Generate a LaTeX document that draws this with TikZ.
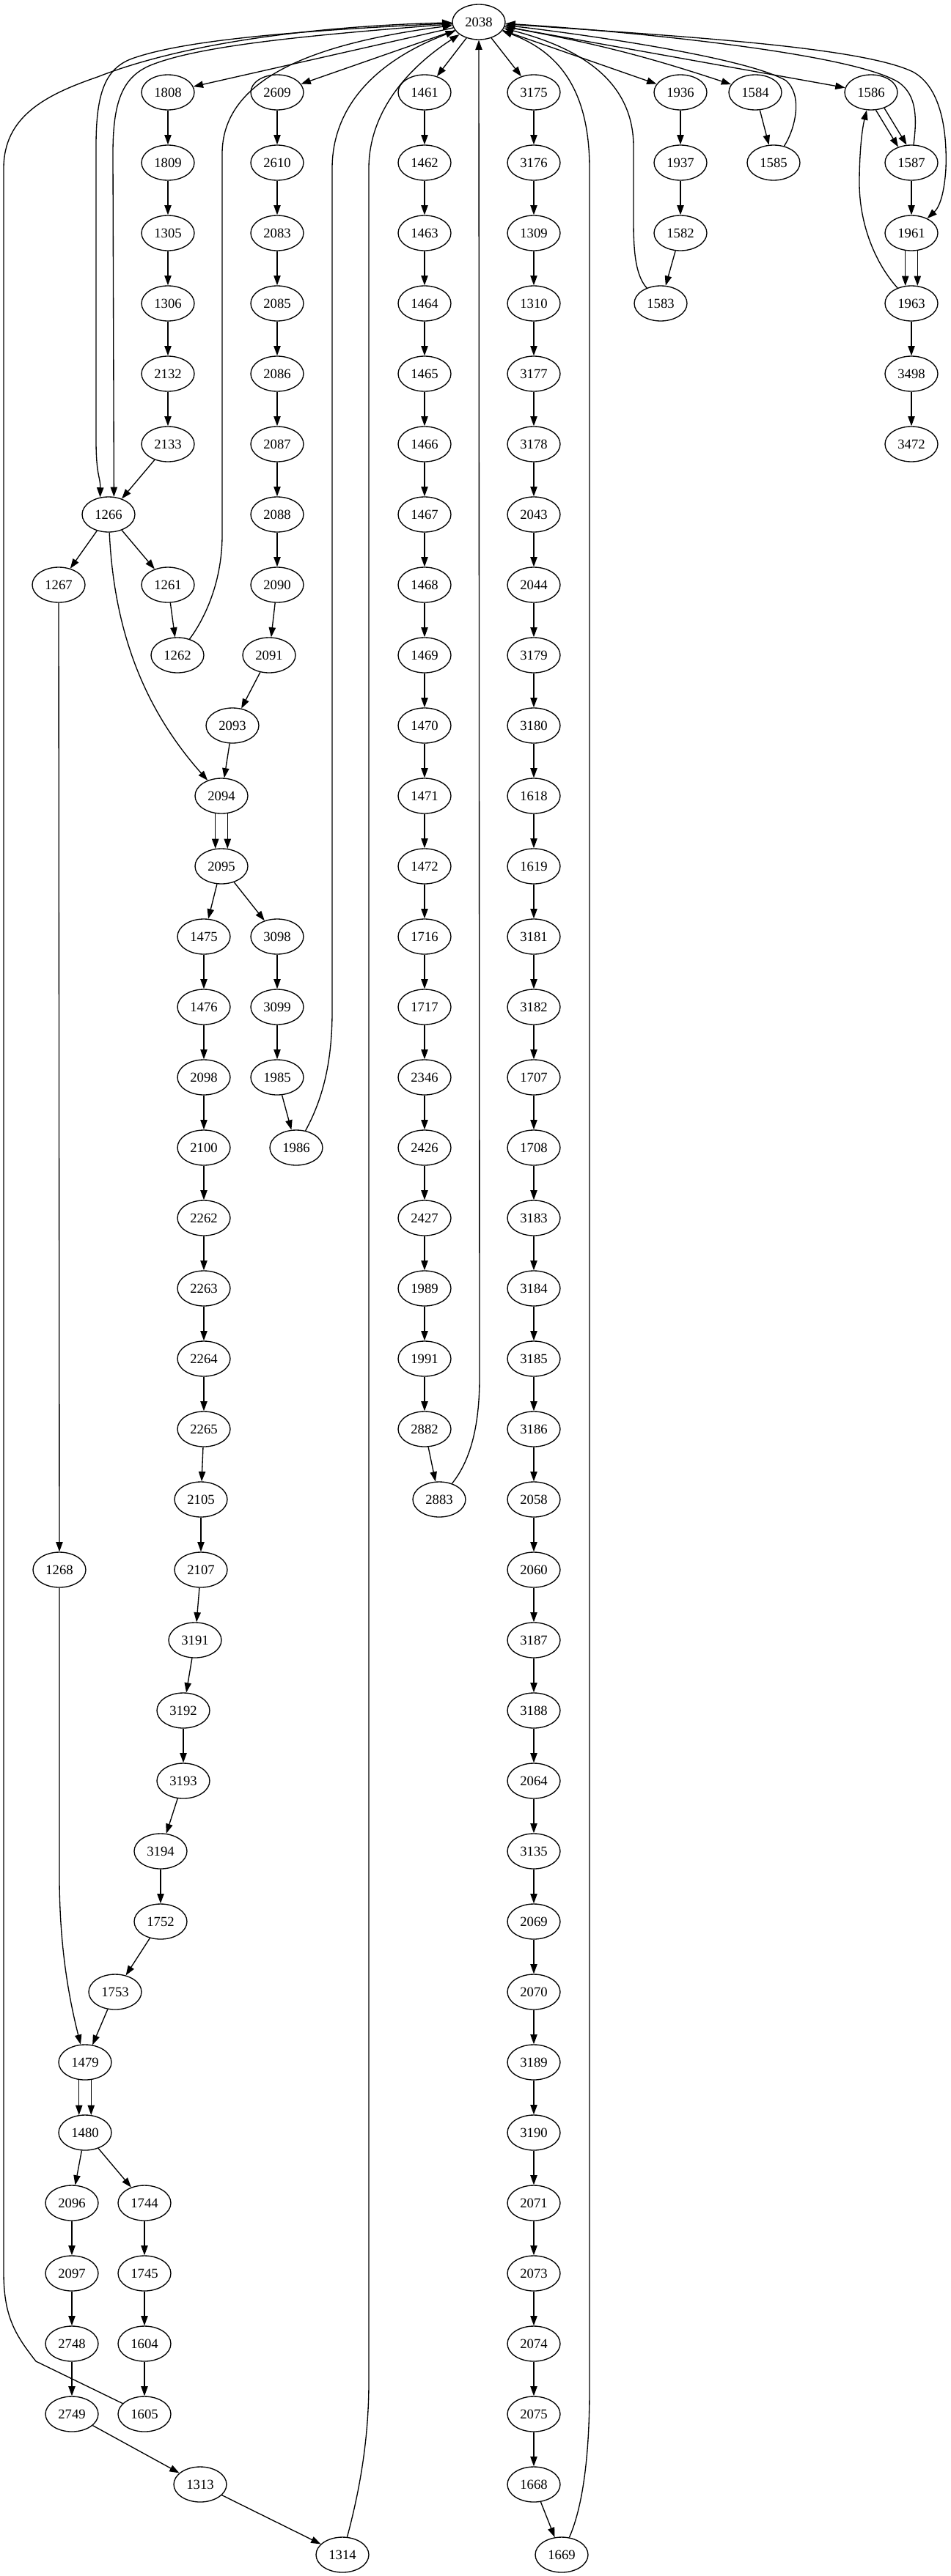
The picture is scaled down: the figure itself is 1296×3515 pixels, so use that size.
\documentclass[tikz,border=0pt]{standalone}
\usepackage{fontspec}
\setmainfont{Liberation Serif}
\usepackage{tikz}
\usetikzlibrary{arrows.meta,shapes.geometric}
\definecolor{Ink}{HTML}{000000}
\tikzset{
  bbNode/.style={ellipse,draw=Ink,line width=1pt,fill=white,text=Ink,
    minimum width=54pt,minimum height=36pt,inner sep=0pt,font=\fontsize{14}{16}\selectfont},
  cfEdge/.style={-{Triangle[length=10pt,width=7pt]},draw=Ink,line width=1pt}
}

\begin{document}
\begin{tikzpicture}[x=0.75pt,y=-0.75pt]
  \useasboundingbox (0,0) rectangle (1296,3515);

  % Entry block
  \node[bbNode] (n2038) at (653,30) {2038};

  % Left chain down to 1266 and its branches
  \node[bbNode] (n1808) at (229,126) {1808};
  \node[bbNode] (n1809) at (229,222) {1809};
  \node[bbNode] (n1305) at (229,318) {1305};
  \node[bbNode] (n1306) at (229,414) {1306};
  \node[bbNode] (n2132) at (229,510) {2132};
  \node[bbNode] (n2133) at (229,606) {2133};
  \node[bbNode] (n1266) at (148,702) {1266};
  \node[bbNode] (n1267) at (80,798) {1267};
  \node[bbNode] (n1261) at (229,798) {1261};
  \node[bbNode] (n1262) at (242,894) {1262};
  \node[bbNode] (n1268) at (81,2142) {1268};

  % Second chain, 2609 to 1314
  \node[bbNode] (n2609) at (378,126) {2609};
  \node[bbNode] (n2610) at (378,222) {2610};
  \node[bbNode] (n2083) at (378,318) {2083};
  \node[bbNode] (n2085) at (378,414) {2085};
  \node[bbNode] (n2086) at (378,510) {2086};
  \node[bbNode] (n2087) at (378,606) {2087};
  \node[bbNode] (n2088) at (378,702) {2088};
  \node[bbNode] (n2090) at (378,798) {2090};
  \node[bbNode] (n2091) at (367,894) {2091};
  \node[bbNode] (n2093) at (317,990) {2093};
  \node[bbNode] (n2094) at (302,1086) {2094};
  \node[bbNode] (n2095) at (302,1182) {2095};
  \node[bbNode] (n1475) at (278,1278) {1475};
  \node[bbNode] (n3098) at (378,1278) {3098};
  \node[bbNode] (n1476) at (278,1374) {1476};
  \node[bbNode] (n3099) at (378,1374) {3099};
  \node[bbNode] (n2098) at (278,1470) {2098};
  \node[bbNode] (n1985) at (378,1470) {1985};
  \node[bbNode] (n2100) at (278,1566) {2100};
  \node[bbNode] (n1986) at (404,1566) {1986};
  \node[bbNode] (n2262) at (278,1662) {2262};
  \node[bbNode] (n2263) at (278,1758) {2263};
  \node[bbNode] (n2264) at (278,1854) {2264};
  \node[bbNode] (n2265) at (278,1950) {2265};
  \node[bbNode] (n2105) at (274,2046) {2105};
  \node[bbNode] (n2107) at (274,2142) {2107};
  \node[bbNode] (n3191) at (266,2238) {3191};
  \node[bbNode] (n3192) at (250,2334) {3192};
  \node[bbNode] (n3193) at (250,2430) {3193};
  \node[bbNode] (n3194) at (219,2526) {3194};
  \node[bbNode] (n1752) at (219,2622) {1752};
  \node[bbNode] (n1753) at (157,2718) {1753};
  \node[bbNode] (n1479) at (116,2814) {1479};
  \node[bbNode] (n1480) at (116,2910) {1480};
  \node[bbNode] (n2096) at (98,3006) {2096};
  \node[bbNode] (n1744) at (197,3006) {1744};
  \node[bbNode] (n2097) at (98,3102) {2097};
  \node[bbNode] (n1745) at (197,3102) {1745};
  \node[bbNode] (n2748) at (98,3198) {2748};
  \node[bbNode] (n1604) at (197,3198) {1604};
  \node[bbNode] (n2749) at (98,3294) {2749};
  \node[bbNode] (n1605) at (197,3294) {1605};
  \node[bbNode] (n1313) at (273,3390) {1313};
  \node[bbNode] (n1314) at (467,3486) {1314};

  % Third chain, 1461 to 2883
  \node[bbNode] (n1461) at (579,126) {1461};
  \node[bbNode] (n1462) at (579,222) {1462};
  \node[bbNode] (n1463) at (579,318) {1463};
  \node[bbNode] (n1464) at (579,414) {1464};
  \node[bbNode] (n1465) at (579,510) {1465};
  \node[bbNode] (n1466) at (579,606) {1466};
  \node[bbNode] (n1467) at (579,702) {1467};
  \node[bbNode] (n1468) at (579,798) {1468};
  \node[bbNode] (n1469) at (579,894) {1469};
  \node[bbNode] (n1470) at (579,990) {1470};
  \node[bbNode] (n1471) at (579,1086) {1471};
  \node[bbNode] (n1472) at (579,1182) {1472};
  \node[bbNode] (n1716) at (579,1278) {1716};
  \node[bbNode] (n1717) at (579,1374) {1717};
  \node[bbNode] (n2346) at (579,1470) {2346};
  \node[bbNode] (n2426) at (579,1566) {2426};
  \node[bbNode] (n2427) at (579,1662) {2427};
  \node[bbNode] (n1989) at (579,1758) {1989};
  \node[bbNode] (n1991) at (579,1854) {1991};
  \node[bbNode] (n2882) at (579,1950) {2882};
  \node[bbNode] (n2883) at (599,2046) {2883};

  % Fourth chain, 3175 to 1669
  \node[bbNode] (n3175) at (728,126) {3175};
  \node[bbNode] (n3176) at (728,222) {3176};
  \node[bbNode] (n1309) at (728,318) {1309};
  \node[bbNode] (n1310) at (728,414) {1310};
  \node[bbNode] (n3177) at (728,510) {3177};
  \node[bbNode] (n3178) at (728,606) {3178};
  \node[bbNode] (n2043) at (728,702) {2043};
  \node[bbNode] (n2044) at (728,798) {2044};
  \node[bbNode] (n3179) at (728,894) {3179};
  \node[bbNode] (n3180) at (728,990) {3180};
  \node[bbNode] (n1618) at (728,1086) {1618};
  \node[bbNode] (n1619) at (728,1182) {1619};
  \node[bbNode] (n3181) at (728,1278) {3181};
  \node[bbNode] (n3182) at (728,1374) {3182};
  \node[bbNode] (n1707) at (728,1470) {1707};
  \node[bbNode] (n1708) at (728,1566) {1708};
  \node[bbNode] (n3183) at (728,1662) {3183};
  \node[bbNode] (n3184) at (728,1758) {3184};
  \node[bbNode] (n3185) at (728,1854) {3185};
  \node[bbNode] (n3186) at (728,1950) {3186};
  \node[bbNode] (n2058) at (728,2046) {2058};
  \node[bbNode] (n2060) at (728,2142) {2060};
  \node[bbNode] (n3187) at (728,2238) {3187};
  \node[bbNode] (n3188) at (728,2334) {3188};
  \node[bbNode] (n2064) at (728,2430) {2064};
  \node[bbNode] (n3135) at (728,2526) {3135};
  \node[bbNode] (n2069) at (728,2622) {2069};
  \node[bbNode] (n2070) at (728,2718) {2070};
  \node[bbNode] (n3189) at (728,2814) {3189};
  \node[bbNode] (n3190) at (728,2910) {3190};
  \node[bbNode] (n2071) at (728,3006) {2071};
  \node[bbNode] (n2073) at (728,3102) {2073};
  \node[bbNode] (n2074) at (728,3198) {2074};
  \node[bbNode] (n2075) at (728,3294) {2075};
  \node[bbNode] (n1668) at (728,3390) {1668};
  \node[bbNode] (n1669) at (766,3486) {1669};

  % Short chains on the right
  \node[bbNode] (n1936) at (928,126) {1936};
  \node[bbNode] (n1937) at (928,222) {1937};
  \node[bbNode] (n1582) at (928,318) {1582};
  \node[bbNode] (n1583) at (901,414) {1583};
  \node[bbNode] (n1584) at (1030,126) {1584};
  \node[bbNode] (n1585) at (1055,222) {1585};
  \node[bbNode] (n1586) at (1188,126) {1586};
  \node[bbNode] (n1587) at (1243,222) {1587};
  \node[bbNode] (n1961) at (1243,318) {1961};
  \node[bbNode] (n1963) at (1243,414) {1963};
  \node[bbNode] (n3498) at (1243,510) {3498};
  \node[bbNode] (n3472) at (1243,606) {3472};

  % Edges out of the entry block
  \draw[cfEdge] (n2038)--(n1808); \draw[cfEdge] (n2038)--(n2609);
  \draw[cfEdge] (n2038)--(n1461); \draw[cfEdge] (n2038)--(n3175);
  \draw[cfEdge] (n2038)--(n1936); \draw[cfEdge] (n2038) to[bend left=4] (n1584);
  \draw[cfEdge] (n2038)--(n1586);
  \draw[cfEdge] (n2038) .. controls (400,42) and (250,55) .. (180,80) .. controls (142,94) and (131,130) .. (131,200) -- (131,600) .. controls (131,650) and (137,650) .. (n1266.116);
  \draw[cfEdge] (n2038) .. controls (420,48) and (275,62) .. (208,88) .. controls (166,104) and (154,140) .. (154,210) -- (n1266.73);
  \draw[cfEdge] (n2038) .. controls (900,48) and (1170,62) .. (1245,98) .. controls (1282,118) and (1292,175) .. (1290,230) .. controls (1288,262) and (1282,282) .. (n1961);

  % Left chain
  \draw[cfEdge] (n1808)--(n1809); \draw[cfEdge] (n1809)--(n1305); \draw[cfEdge] (n1305)--(n1306);
  \draw[cfEdge] (n1306)--(n2132); \draw[cfEdge] (n2132)--(n2133); \draw[cfEdge] (n2133)--(n1266);
  \draw[cfEdge] (n1266)--(n1267); \draw[cfEdge] (n1266)--(n1261); \draw[cfEdge] (n1261)--(n1262);
  \draw[cfEdge] (n1266) .. controls (155,850) and (190,960) .. (n2094);
  \draw[cfEdge] (n1267)--(n1268);
  \draw[cfEdge] (n1268) -- (81,2560) .. controls (81,2660) and (95,2730) .. (n1479);

  % Second chain
  \draw[cfEdge] (n2609)--(n2610); \draw[cfEdge] (n2610)--(n2083); \draw[cfEdge] (n2083)--(n2085);
  \draw[cfEdge] (n2085)--(n2086); \draw[cfEdge] (n2086)--(n2087); \draw[cfEdge] (n2087)--(n2088);
  \draw[cfEdge] (n2088)--(n2090); \draw[cfEdge] (n2090)--(n2091); \draw[cfEdge] (n2091)--(n2093);
  \draw[cfEdge] (n2093)--(n2094);
  \draw[cfEdge] (n2094.-109)--(n2095.109); \draw[cfEdge] (n2094.-71)--(n2095.71);
  \draw[cfEdge] (n2095)--(n1475); \draw[cfEdge] (n2095)--(n3098);
  \draw[cfEdge] (n1475)--(n1476); \draw[cfEdge] (n1476)--(n2098); \draw[cfEdge] (n2098)--(n2100);
  \draw[cfEdge] (n3098)--(n3099); \draw[cfEdge] (n3099)--(n1985); \draw[cfEdge] (n1985)--(n1986);
  \draw[cfEdge] (n2100)--(n2262); \draw[cfEdge] (n2262)--(n2263); \draw[cfEdge] (n2263)--(n2264);
  \draw[cfEdge] (n2264)--(n2265); \draw[cfEdge] (n2265)--(n2105); \draw[cfEdge] (n2105)--(n2107);
  \draw[cfEdge] (n2107)--(n3191); \draw[cfEdge] (n3191)--(n3192); \draw[cfEdge] (n3192)--(n3193);
  \draw[cfEdge] (n3193)--(n3194); \draw[cfEdge] (n3194)--(n1752); \draw[cfEdge] (n1752)--(n1753);
  \draw[cfEdge] (n1753)--(n1479);
  \draw[cfEdge] (n1479.-109)--(n1480.109); \draw[cfEdge] (n1479.-71)--(n1480.71);
  \draw[cfEdge] (n1480)--(n2096); \draw[cfEdge] (n1480)--(n1744);
  \draw[cfEdge] (n2096)--(n2097); \draw[cfEdge] (n2097)--(n2748); \draw[cfEdge] (n2748)--(n2749);
  \draw[cfEdge] (n1744)--(n1745); \draw[cfEdge] (n1745)--(n1604); \draw[cfEdge] (n1604)--(n1605);
  \draw[cfEdge] (n2749)--(n1313); \draw[cfEdge] (n1313)--(n1314);

  % Third chain
  \draw[cfEdge] (n1461)--(n1462); \draw[cfEdge] (n1462)--(n1463); \draw[cfEdge] (n1463)--(n1464);
  \draw[cfEdge] (n1464)--(n1465); \draw[cfEdge] (n1465)--(n1466); \draw[cfEdge] (n1466)--(n1467);
  \draw[cfEdge] (n1467)--(n1468); \draw[cfEdge] (n1468)--(n1469); \draw[cfEdge] (n1469)--(n1470);
  \draw[cfEdge] (n1470)--(n1471); \draw[cfEdge] (n1471)--(n1472); \draw[cfEdge] (n1472)--(n1716);
  \draw[cfEdge] (n1716)--(n1717); \draw[cfEdge] (n1717)--(n2346); \draw[cfEdge] (n2346)--(n2426);
  \draw[cfEdge] (n2426)--(n2427); \draw[cfEdge] (n2427)--(n1989); \draw[cfEdge] (n1989)--(n1991);
  \draw[cfEdge] (n1991)--(n2882); \draw[cfEdge] (n2882)--(n2883);

  % Fourth chain
  \draw[cfEdge] (n3175)--(n3176); \draw[cfEdge] (n3176)--(n1309); \draw[cfEdge] (n1309)--(n1310);
  \draw[cfEdge] (n1310)--(n3177); \draw[cfEdge] (n3177)--(n3178); \draw[cfEdge] (n3178)--(n2043);
  \draw[cfEdge] (n2043)--(n2044); \draw[cfEdge] (n2044)--(n3179); \draw[cfEdge] (n3179)--(n3180);
  \draw[cfEdge] (n3180)--(n1618); \draw[cfEdge] (n1618)--(n1619); \draw[cfEdge] (n1619)--(n3181);
  \draw[cfEdge] (n3181)--(n3182); \draw[cfEdge] (n3182)--(n1707); \draw[cfEdge] (n1707)--(n1708);
  \draw[cfEdge] (n1708)--(n3183); \draw[cfEdge] (n3183)--(n3184); \draw[cfEdge] (n3184)--(n3185);
  \draw[cfEdge] (n3185)--(n3186); \draw[cfEdge] (n3186)--(n2058); \draw[cfEdge] (n2058)--(n2060);
  \draw[cfEdge] (n2060)--(n3187); \draw[cfEdge] (n3187)--(n3188); \draw[cfEdge] (n3188)--(n2064);
  \draw[cfEdge] (n2064)--(n3135); \draw[cfEdge] (n3135)--(n2069); \draw[cfEdge] (n2069)--(n2070);
  \draw[cfEdge] (n2070)--(n3189); \draw[cfEdge] (n3189)--(n3190); \draw[cfEdge] (n3190)--(n2071);
  \draw[cfEdge] (n2071)--(n2073); \draw[cfEdge] (n2073)--(n2074); \draw[cfEdge] (n2074)--(n2075);
  \draw[cfEdge] (n2075)--(n1668); \draw[cfEdge] (n1668)--(n1669);

  % Right chains
  \draw[cfEdge] (n1936)--(n1937); \draw[cfEdge] (n1937)--(n1582); \draw[cfEdge] (n1582)--(n1583);
  \draw[cfEdge] (n1584)--(n1585);
  \draw[cfEdge] (n1586.-75)--(n1587.130); \draw[cfEdge] (n1586.-50)--(n1587.105);
  \draw[cfEdge] (n1587)--(n1961);
  \draw[cfEdge] (n1961.-109)--(n1963.109); \draw[cfEdge] (n1961.-71)--(n1963.71);
  \draw[cfEdge] (n1963)--(n3498); \draw[cfEdge] (n3498)--(n3472);
  \draw[cfEdge] (n1963) .. controls (1190,355) and (1172,300) .. (1172,250) .. controls (1172,205) and (1176,175) .. (n1586);

  % Back edges into the entry block
  \draw[cfEdge] (n1605) -- (49,3222) .. controls (20,3185) and (5,3160) .. (5,3100) -- (5,230) .. controls (5,160) and (60,130) .. (133,105) .. controls (260,55) and (450,35) .. (n2038);
  \draw[cfEdge] (n1262) .. controls (275,850) and (303,800) .. (303,730) -- (303,210) .. controls (303,110) and (420,60) .. (n2038);
  \draw[cfEdge] (n1986) .. controls (440,1500) and (453,1450) .. (453,1380) -- (453,230) .. controls (453,140) and (520,80) .. (n2038);
  \draw[cfEdge] (n1314) .. controls (490,3400) and (503,3330) .. (503,3250) -- (503,230) .. controls (503,150) and (560,90) .. (n2038);
  \draw[cfEdge] (n2883) .. controls (640,1995) and (654,1950) .. (654,1880) -- (n2038);
  \draw[cfEdge] (n1669) .. controls (795,3420) and (804,3350) .. (804,3260) -- (804,230) .. controls (804,120) and (760,70) .. (n2038);
  \draw[cfEdge] (n1583) .. controls (866,375) and (864,340) .. (864,300) -- (864,200) .. controls (864,110) and (790,65) .. (n2038);
  \draw[cfEdge] (n1585) .. controls (1085,175) and (1095,130) .. (1072,110) .. controls (1020,80) and (820,50) .. (n2038);
  \draw[cfEdge] (n1587) .. controls (1250,165) and (1252,130) .. (1225,112) .. controls (1160,72) and (850,42) .. (n2038);
\end{tikzpicture}
\end{document}
